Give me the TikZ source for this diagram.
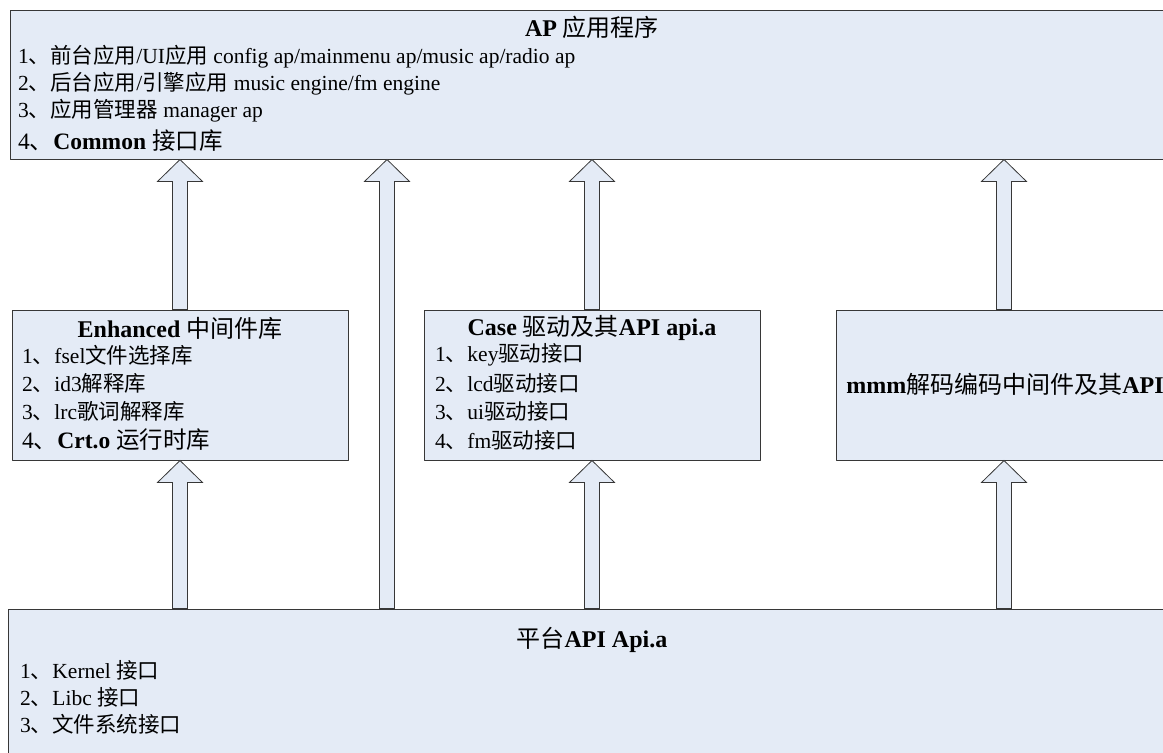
\documentclass[tikz,border=0pt]{standalone}
\usepackage{fontspec}
\setmainfont{Liberation Serif}
\newfontfamily\hanzi{Noto Sans CJK SC}
\newcommand{\zh}[1]{{\hanzi\mdseries #1}}
\usetikzlibrary{calc}
\definecolor{boxfill}{RGB}{228,235,246}
\definecolor{boxline}{RGB}{55,55,55}

\tikzset{
	layer/.style={draw=boxline,fill=boxfill,line width=1pt,minimum width=336pt,minimum height=150pt,inner sep=0pt},
	title/.style={inner sep=0pt,font=\fontsize{24}{28}\selectfont\bfseries},
	item/.style={anchor=west,inner sep=0pt,font=\fontsize{21.5}{25}\selectfont},
	bigitem/.style={item,font=\fontsize{23.5}{27}\selectfont},
	hollow/.style={draw=boxline,fill=boxfill,line width=0.8pt,line join=miter},
}

% hollow block arrow on column #1, from the top of node #2 up to the bottom of node #3
\newcommand{\upblock}[3]{%
	\draw[hollow] ($(#1 |- #2.north)+(-7.5pt,0pt)$) -- ($(#1 |- #3.south)+(-7.5pt,-22pt)$)
		-- ($(#1 |- #3.south)+(-22.5pt,-22pt)$) -- (#1 |- #3.south)
		-- ($(#1 |- #3.south)+(22.5pt,-22pt)$) -- ($(#1 |- #3.south)+(7.5pt,-22pt)$)
		-- ($(#1 |- #2.north)+(7.5pt,0pt)$) -- cycle;}

\begin{document}
\begin{tikzpicture}[line cap=round,line join=round,x=1pt,y=-1pt]
		\clip(0,0) rectangle (1163,753);
		% layers
		\node[layer,minimum width=1166pt,minimum height=149pt] (ap) at (593,84.5) {};
		\node[layer] (enh) at (180,385) {};
		\node[layer] (drv) at (592,385) {};
		\node[layer] (mmm) at (1004,385) {};
		\node[layer,minimum width=1170pt,minimum height=152pt] (plat) at (593,685) {};
		% arrow columns
		\coordinate (col1) at (180,0);
		\coordinate (col2) at (387,0);
		\coordinate (col3) at (592,0);
		\coordinate (col4) at (1004,0);
		\upblock{col1}{enh}{ap}
		\upblock{col2}{plat}{ap}
		\upblock{col3}{drv}{ap}
		\upblock{col4}{mmm}{ap}
		\upblock{col1}{plat}{enh}
		\upblock{col3}{plat}{drv}
		\upblock{col4}{plat}{mmm}
		% application layer
		\node[title] (aptitle) at (592,27) {AP \zh{应用程序}};
		\node[item] (ap1) at (18,57) {1\zh{、前台应用}/UI\zh{应用} config ap/mainmenu ap/music ap/radio ap};
		\node[item] (ap2) at (18,84) {2\zh{、后台应用}/\zh{引擎应用} music engine/fm engine};
		\node[item] (ap3) at (18,111) {3\zh{、应用管理器} manager ap};
		\node[bigitem] (ap4) at (18,141) {4\zh{、}\textbf{Common} \zh{接口库}};
		% middleware
		\node[title] (enhtitle) at (180,328) {Enhanced \zh{中间件库}};
		\node[item] (enh1) at (22,355) {1\zh{、}fsel\zh{文件选择库}};
		\node[item] (enh2) at (22,383) {2\zh{、}id3\zh{解释库}};
		\node[item] (enh3) at (22,411) {3\zh{、}lrc\zh{歌词解释库}};
		\node[bigitem] (enh4) at (22,440) {4\zh{、}\textbf{Crt.o} \zh{运行时库}};
		% drivers
		\node[title] (drvtitle) at (592,328) {Case \zh{驱动及其}API api.a};
		\node[item] (drv1) at (435,355) {1\zh{、}key\zh{驱动接口}};
		\node[item] (drv2) at (435,383) {2\zh{、}lcd\zh{驱动接口}};
		\node[item] (drv3) at (435,411) {3\zh{、}ui\zh{驱动接口}};
		\node[item] (drv4) at (435,440) {4\zh{、}fm\zh{驱动接口}};
		% codec
		\node[title] (mmmtitle) at (1005,384) {mmm\zh{解码编码中间件及其}API};
		% platform
		\node[title] (plattitle) at (592,640) {\zh{平台}API Api.a};
		\node[item] (plat1) at (20,670) {1\zh{、}Kernel \zh{接口}};
		\node[item] (plat2) at (20,697) {2\zh{、}Libc \zh{接口}};
		\node[item] (plat3) at (20,724) {3\zh{、文件系统接口}};
	\end{tikzpicture}
\end{document}
